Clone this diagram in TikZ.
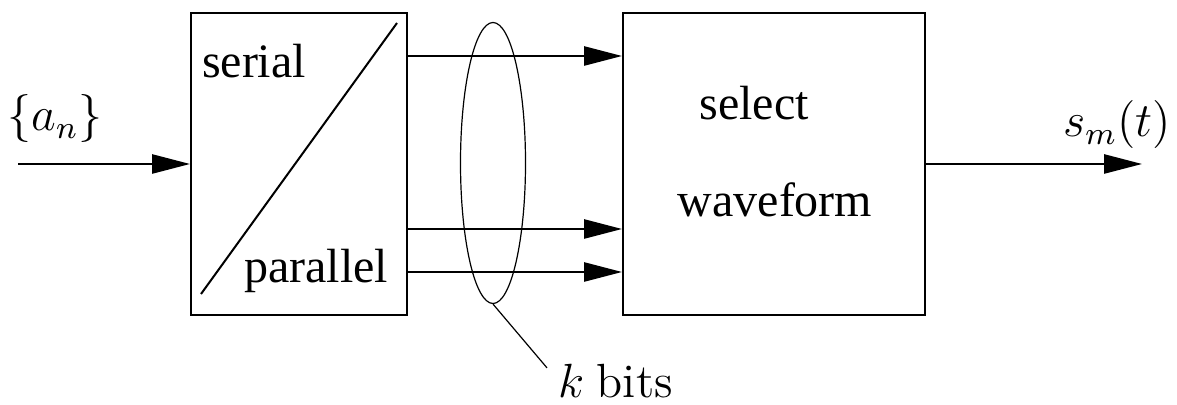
\documentclass[tikz,border=0pt]{standalone}
\usepackage{fontspec}
\setmainfont{Liberation Serif}
\newfontfamily\lmfont{Latin Modern Roman}
\usetikzlibrary{arrows.meta,shapes.geometric,positioning,calc}

\tikzset{
  blk/.style={draw,line width=.5pt,inner sep=0pt},
  arr/.style={line width=.5pt,-{Triangle[length=9.5pt,width=4.8pt]}},
  lbl/.style={inner sep=0pt,anchor=base}
}

\begin{document}
\begin{tikzpicture}[x=.25pt,y=-.25pt,font=\fontsize{12}{14}\selectfont]
  \useasboundingbox (0,0) rectangle (1177,405);
  % blocks
  \node[blk,minimum width=54pt,minimum height=75.5pt] (sp) at (299,164) {};
  \node[blk,minimum width=75.5pt,minimum height=75.5pt] (sw) at (774,164) {};
  \draw[line width=.5pt] ([shift={(2.75pt,5.5pt)}]sp.south west) -- ([shift={(-2.75pt,-2.75pt)}]sp.north east);
  \node[lbl] (ser) at (254,78) {serial};
  \node[lbl] (par) at (316,283) {parallel};
  \node[lbl] (sel) at (754,120) {select};
  \node[lbl] (wav) at (775,217) {waveform};
  % input and output
  \coordinate (in) at (18,164);
  \coordinate (out) at (1142,164);
  \node[inner sep=0pt] (an) at (55,119) {$\{a_n\}$};
  \node[inner sep=0pt] (sm) at (1117,125) {$s_m(t)$};
  \draw[arr] (in) -- (sp.west);
  \draw[arr] (sw.east) -- (out);
  % k parallel lines
  \draw[arr] (sp.east |- 0,56) -- (sw.west |- 0,56);
  \draw[arr] (sp.east |- 0,229) -- (sw.west |- 0,229);
  \draw[arr] (sp.east |- 0,272) -- (sw.west |- 0,272);
  \node[draw,ellipse,line width=.3pt,inner sep=0pt,minimum width=16.25pt,minimum height=70.25pt] (grp) at (493,163) {};
  \node[lbl,anchor=base west] (kb) at (558,398) {$k$ {\lmfont bits}};
  \draw[line width=.3pt] (grp.south) -- ([shift={(-2.75pt,-1pt)}]kb.north west);
\end{tikzpicture}
\end{document}
